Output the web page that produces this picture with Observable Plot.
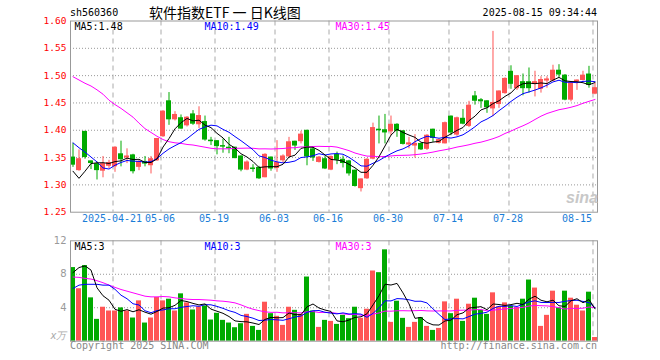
<!DOCTYPE html>
<html><head><meta charset="utf-8">
<script src="https://cdn.jsdelivr.net/npm/d3@7"></script>
<script src="https://cdn.jsdelivr.net/npm/@observablehq/plot@0.6"></script>
<style>
body{margin:0;background:#fff;}
#wrap{position:relative;width:660px;height:360px;overflow:hidden;font-family:"DejaVu Sans Mono",monospace;font-size:10px;}
#wrap svg{position:absolute;left:0;overflow:visible;}
.t{position:absolute;white-space:nowrap;line-height:10px;}
</style></head><body><div id="wrap"></div>
<script>
// ---------- data ----------
const dates = [
"2025-04-10","2025-04-11","2025-04-14","2025-04-15","2025-04-16","2025-04-17","2025-04-18","2025-04-21","2025-04-22","2025-04-23",
"2025-04-24","2025-04-25","2025-04-28","2025-04-29","2025-04-30","2025-05-06","2025-05-07","2025-05-08","2025-05-09","2025-05-12",
"2025-05-13","2025-05-14","2025-05-15","2025-05-16","2025-05-19","2025-05-20","2025-05-21","2025-05-22","2025-05-23","2025-05-26",
"2025-05-27","2025-05-28","2025-05-29","2025-05-30","2025-06-03","2025-06-04","2025-06-05","2025-06-06","2025-06-09","2025-06-10",
"2025-06-11","2025-06-12","2025-06-13","2025-06-16","2025-06-17","2025-06-18","2025-06-19","2025-06-20","2025-06-23","2025-06-24",
"2025-06-25","2025-06-26","2025-06-27","2025-06-30","2025-07-01","2025-07-02","2025-07-03","2025-07-04","2025-07-07","2025-07-08",
"2025-07-09","2025-07-10","2025-07-11","2025-07-14","2025-07-15","2025-07-16","2025-07-17","2025-07-18","2025-07-21","2025-07-22",
"2025-07-23","2025-07-24","2025-07-25","2025-07-28","2025-07-29","2025-07-30","2025-07-31","2025-08-01","2025-08-04","2025-08-05",
"2025-08-06","2025-08-07","2025-08-08","2025-08-11","2025-08-12","2025-08-13","2025-08-14","2025-08-15"];
const open = [
1.350,1.327,1.397,1.343,1.338,1.326,1.335,1.334,1.356,1.350,
1.354,1.333,1.342,1.336,1.345,1.389,1.453,1.420,1.422,1.409,
1.429,1.411,1.415,1.381,1.380,1.371,1.368,1.368,1.352,1.328,
1.330,1.331,1.314,1.350,1.331,1.345,1.352,1.379,1.380,1.399,
1.365,1.342,1.347,1.328,1.355,1.346,1.343,1.326,1.294,1.312,
1.348,1.401,1.400,1.398,1.410,1.398,1.374,1.372,1.375,1.366,
1.401,1.377,1.376,1.425,1.392,1.421,1.408,1.462,1.455,1.453,
1.440,1.448,1.468,1.507,1.477,1.488,1.488,1.485,1.476,1.491,
1.491,1.509,1.500,1.456,1.489,1.492,1.502,1.467];
const close = [
1.337,1.347,1.351,1.340,1.327,1.338,1.340,1.368,1.347,1.352,
1.325,1.342,1.339,1.347,1.384,1.434,1.420,1.428,1.403,1.423,
1.412,1.426,1.383,1.380,1.371,1.370,1.367,1.349,1.328,1.341,
1.329,1.312,1.355,1.330,1.340,1.352,1.378,1.372,1.392,1.352,
1.350,1.350,1.330,1.351,1.346,1.340,1.321,1.298,1.310,1.346,
1.404,1.400,1.396,1.410,1.399,1.375,1.376,1.375,1.365,1.390,
1.386,1.382,1.413,1.396,1.422,1.412,1.445,1.454,1.453,1.442,
1.450,1.471,1.494,1.485,1.499,1.477,1.477,1.488,1.492,1.493,
1.509,1.502,1.456,1.486,1.491,1.500,1.483,1.477];
const high = [
1.376,1.364,1.398,1.344,1.342,1.352,1.345,1.370,1.380,1.366,
1.356,1.345,1.352,1.352,1.385,1.436,1.469,1.434,1.428,1.425,
1.436,1.443,1.426,1.387,1.381,1.384,1.387,1.369,1.353,1.344,
1.337,1.334,1.357,1.351,1.381,1.355,1.387,1.380,1.398,1.400,
1.370,1.352,1.352,1.353,1.360,1.353,1.345,1.327,1.311,1.348,
1.413,1.426,1.429,1.426,1.412,1.399,1.387,1.392,1.376,1.392,
1.402,1.384,1.415,1.426,1.424,1.438,1.453,1.471,1.458,1.454,
1.581,1.472,1.496,1.518,1.500,1.503,1.514,1.508,1.498,1.498,
1.519,1.520,1.502,1.488,1.492,1.508,1.517,1.486];
const low = [
1.332,1.325,1.347,1.328,1.309,1.313,1.330,1.323,1.333,1.339,
1.320,1.326,1.333,1.320,1.343,1.387,1.409,1.417,1.402,1.406,
1.409,1.403,1.380,1.372,1.355,1.358,1.357,1.348,1.324,1.326,
1.323,1.310,1.313,1.325,1.323,1.340,1.350,1.363,1.375,1.335,
1.343,1.340,1.328,1.326,1.337,1.331,1.316,1.296,1.287,1.310,
1.346,1.375,1.375,1.390,1.387,1.373,1.366,1.349,1.363,1.363,
1.378,1.375,1.375,1.390,1.389,1.410,1.405,1.446,1.440,1.431,
1.425,1.440,1.466,1.475,1.473,1.463,1.468,1.461,1.468,1.477,
1.489,1.496,1.454,1.452,1.473,1.490,1.477,1.465];
// volume, in 万
const volume = [
8.80,6.27,9.04,5.18,2.61,4.06,3.61,3.61,3.98,3.61,
2.77,4.82,2.17,2.77,5.22,4.82,5.02,3.61,5.66,4.58,
3.73,4.10,4.22,2.53,3.33,2.49,2.17,1.61,2.09,3.21,
1.77,1.29,4.66,3.29,2.97,1.89,4.06,3.69,3.21,7.67,
3.61,1.65,2.49,2.37,2.01,3.09,2.69,4.06,2.73,3.82,
8.39,8.19,10.92,2.25,4.78,2.73,1.65,2.25,2.81,1.77,
1.29,1.53,4.70,3.29,5.02,2.37,4.42,5.14,3.69,3.21,
5.78,4.10,4.58,4.18,4.02,5.02,7.31,6.35,1.77,3.09,
5.98,3.98,5.98,5.14,4.30,3.61,5.86,0.44];
const ma5Head  = [1.325,1.312,1.325,1.339];
const ma10Head = [1.377,1.368,1.360,1.351,1.342,1.331,1.329,1.336,1.341];
const ma30Head = [1.498,1.492,1.486,1.481,1.474,1.466,1.455,1.447,1.440,1.432,
                  1.424,1.413,1.403,1.396,1.389,1.383,1.379,1.377,1.376,1.374,
                  1.373,1.371,1.369,1.367,1.366,1.366,1.366,1.367,1.367];
const vma5Head  = [8.2,8.8,9.0,8.5];
const vma10Head = [6.3,6.7,6.8,6.8,6.8,6.7,6.7,6.2,5.5];
const vma30Head = [7.67,7.63,7.51,7.43,7.23,6.99,6.71,6.43,6.18,5.98,
                   5.78,5.58,5.38,5.30,5.30,5.34,5.30,5.18,5.10,5.02,
                   4.98,4.98,4.94,4.90,4.82,4.78,4.70,4.58,4.34];
const priceTicks = [1.25,1.30,1.35,1.40,1.45,1.50,1.55,1.60];
const volTicks = [4,8,12];
const tickDates  = ["2025-04-21","2025-05-06","2025-05-19","2025-06-03","2025-06-16","2025-06-30","2025-07-14","2025-07-28","2025-08-15"];
const tickLabels = ["2025-04-21","05-06","05-19","06-03","06-16","06-30","07-14","07-28","08-15"];
const code = "sh560360";
const title = "软件指数ETF 一 日K线图";
const stamp = "2025-08-15 09:34:44";
const priceMaLabels = ["MA5:1.48","MA10:1.49","MA30:1.45"];
const volMaLabels = ["MA5:3","MA10:3","MA30:3"];
const volUnit = "x万";

// ---------- build ----------
const UP = "#ff5555", DN = "#00aa00", MA5C = "#000000", MA10C = "#0000ff", MA30C = "#ff00ff";
function ma(arr, n, head){ return arr.map((_, i) => i < n - 1 ? head[i] : d3.mean(arr.slice(i - n + 1, i + 1))); }
const ma5 = ma(close, 5, ma5Head), ma10 = ma(close, 10, ma10Head), ma30 = ma(close, 30, ma30Head);
const vma5 = ma(volume, 5, vma5Head), vma10 = ma(volume, 10, vma10Head), vma30 = ma(volume, 30, vma30Head);
const rows = dates.map((d, i) => ({i, date: d, o: open[i], h: high[i], l: low[i], c: close[i], v: volume[i],
  up: close[i] >= open[i], ma5: ma5[i], ma10: ma10[i], ma30: ma30[i], vma5: vma5[i], vma10: vma10[i], vma30: vma30[i]}));
const ticks = tickDates.map((d, k) => ({i: dates.indexOf(d), label: tickLabels[k]}));
const half = 0.4167;
const xDomain = [-half, dates.length - 1 + half];
const col = d => d.up ? UP : DN;
const font = {fontFamily: "DejaVu Sans Mono, monospace", fontSize: "10px", background: "transparent", overflow: "visible"};

const price = Plot.plot({
  width: 660, height: 232, marginLeft: 70, marginRight: 63, marginTop: 20.5, marginBottom: 20.3,
  style: font,
  x: {domain: xDomain, axis: null},
  y: {domain: [1.25, 1.60], axis: null},
  color: {type: "identity"},
  marks: [
    Plot.ruleY(priceTicks.slice(1, -1), {stroke: "#999", strokeDasharray: "1,2"}),
    Plot.ruleX(ticks, {x: "i", dx: -2, stroke: "#aaa", strokeDasharray: "5,4"}),
    Plot.ruleX(rows, {x: "i", y1: "l", y2: "h", stroke: col}),
    Plot.rect(rows, {x1: d => d.i - half, x2: d => d.i + half, y1: d => Math.min(d.o, d.c), y2: d => Math.max(d.o, d.c),
      fill: col, insetTop: -0.5, insetBottom: -0.5}),
    Plot.line(rows, {x: "i", y: "ma30", stroke: MA30C, strokeWidth: 1}),
    Plot.line(rows, {x: "i", y: "ma10", stroke: MA10C, strokeWidth: 1}),
    Plot.line(rows, {x: "i", y: "ma5", stroke: MA5C, strokeWidth: 1}),
    Plot.frame({stroke: "#999"}),
    Plot.text(priceTicks, {y: d => d, frameAnchor: "left", dx: -4, textAnchor: "end", text: d => d.toFixed(2), fill: "#f00", fontSize: 9.5}),
    Plot.text(ticks.slice(0, -1), {x: "i", frameAnchor: "bottom", dy: 10, dx: -3, text: "label", fill: "#1a7dd7"}),
    Plot.text(ticks.slice(-1), {x: "i", frameAnchor: "bottom", dy: 10, dx: -3, textAnchor: "end", text: "label", fill: "#1a7dd7"}),
    Plot.text([priceMaLabels[0]], {frameAnchor: "top-left", dx: 4, dy: 6, text: d => d, fill: MA5C, lineAnchor: "middle"}),
    Plot.text([priceMaLabels[1]], {frameAnchor: "top-left", dx: 134, dy: 6, text: d => d, fill: MA10C, lineAnchor: "middle"}),
    Plot.text([priceMaLabels[2]], {frameAnchor: "top-left", dx: 265, dy: 6, text: d => d, fill: MA30C, lineAnchor: "middle"})
  ]
});

const vol = Plot.plot({
  width: 660, height: 128, marginLeft: 70, marginRight: 63, marginTop: 8.3, marginBottom: 19.3,
  style: font,
  x: {domain: xDomain, axis: null},
  y: {domain: [0, 12], axis: null},
  color: {type: "identity"},
  marks: [
    Plot.ruleY(volTicks.slice(0, -1), {stroke: "#999", strokeDasharray: "1,2"}),
    Plot.ruleX(ticks, {x: "i", dx: -2, stroke: "#aaa", strokeDasharray: "5,4"}),
    Plot.rect(rows, {x1: d => d.i - half, x2: d => d.i + half, y1: 0, y2: "v", fill: col}),
    Plot.line(rows, {x: "i", y: "vma30", stroke: MA30C, strokeWidth: 1}),
    Plot.line(rows, {x: "i", y: "vma10", stroke: MA10C, strokeWidth: 1}),
    Plot.line(rows, {x: "i", y: "vma5", stroke: MA5C, strokeWidth: 1}),
    Plot.frame({stroke: "#999"}),
    Plot.text(volTicks, {y: d => d, frameAnchor: "left", dx: -4, textAnchor: "end", text: d => String(d), fill: "#999",
      fontFamily: "DejaVu Sans, sans-serif", fontSize: 10}),
    Plot.text([volUnit], {frameAnchor: "bottom-left", dx: -4, dy: -2, textAnchor: "end", text: d => d, fill: "#aaa",
      fontFamily: "DejaVu Sans, sans-serif", fontSize: 10, fontStyle: "italic"}),
    Plot.text([volMaLabels[0]], {frameAnchor: "top-left", dx: 4, dy: 6, text: d => d, fill: MA5C, lineAnchor: "middle"}),
    Plot.text([volMaLabels[1]], {frameAnchor: "top-left", dx: 134, dy: 6, text: d => d, fill: MA10C, lineAnchor: "middle"}),
    Plot.text([volMaLabels[2]], {frameAnchor: "top-left", dx: 265, dy: 6, text: d => d, fill: MA30C, lineAnchor: "middle"})
  ]
});

const wrap = document.getElementById("wrap");
price.style.top = "0px"; vol.style.top = "232px";
wrap.appendChild(price); wrap.appendChild(vol);
function addText(txt, css){ const el = document.createElement("div"); el.className = "t"; el.textContent = txt; Object.assign(el.style, css); wrap.appendChild(el); return el; }
addText(code, {left: "70px", top: "8px", color: "#000"});
addText(title, {left: "149px", top: "5px", fontFamily: "'Noto Sans CJK SC', sans-serif", fontSize: "14px", lineHeight: "14px", color: "#000"});
addText(stamp, {right: "63px", top: "8px", color: "#000"});
addText("Copyright 2025 SINA.COM", {left: "70px", top: "341px", color: "#888"});
addText("http://finance.sina.com.cn", {right: "63px", top: "341px", color: "#888"});
addText("sina", {left: "566px", top: "190px", fontFamily: "'Liberation Sans', Arial, sans-serif", fontSize: "16px", lineHeight: "16px", fontWeight: "bold", fontStyle: "italic", color: "#c8c8c8"});
</script></body></html>
